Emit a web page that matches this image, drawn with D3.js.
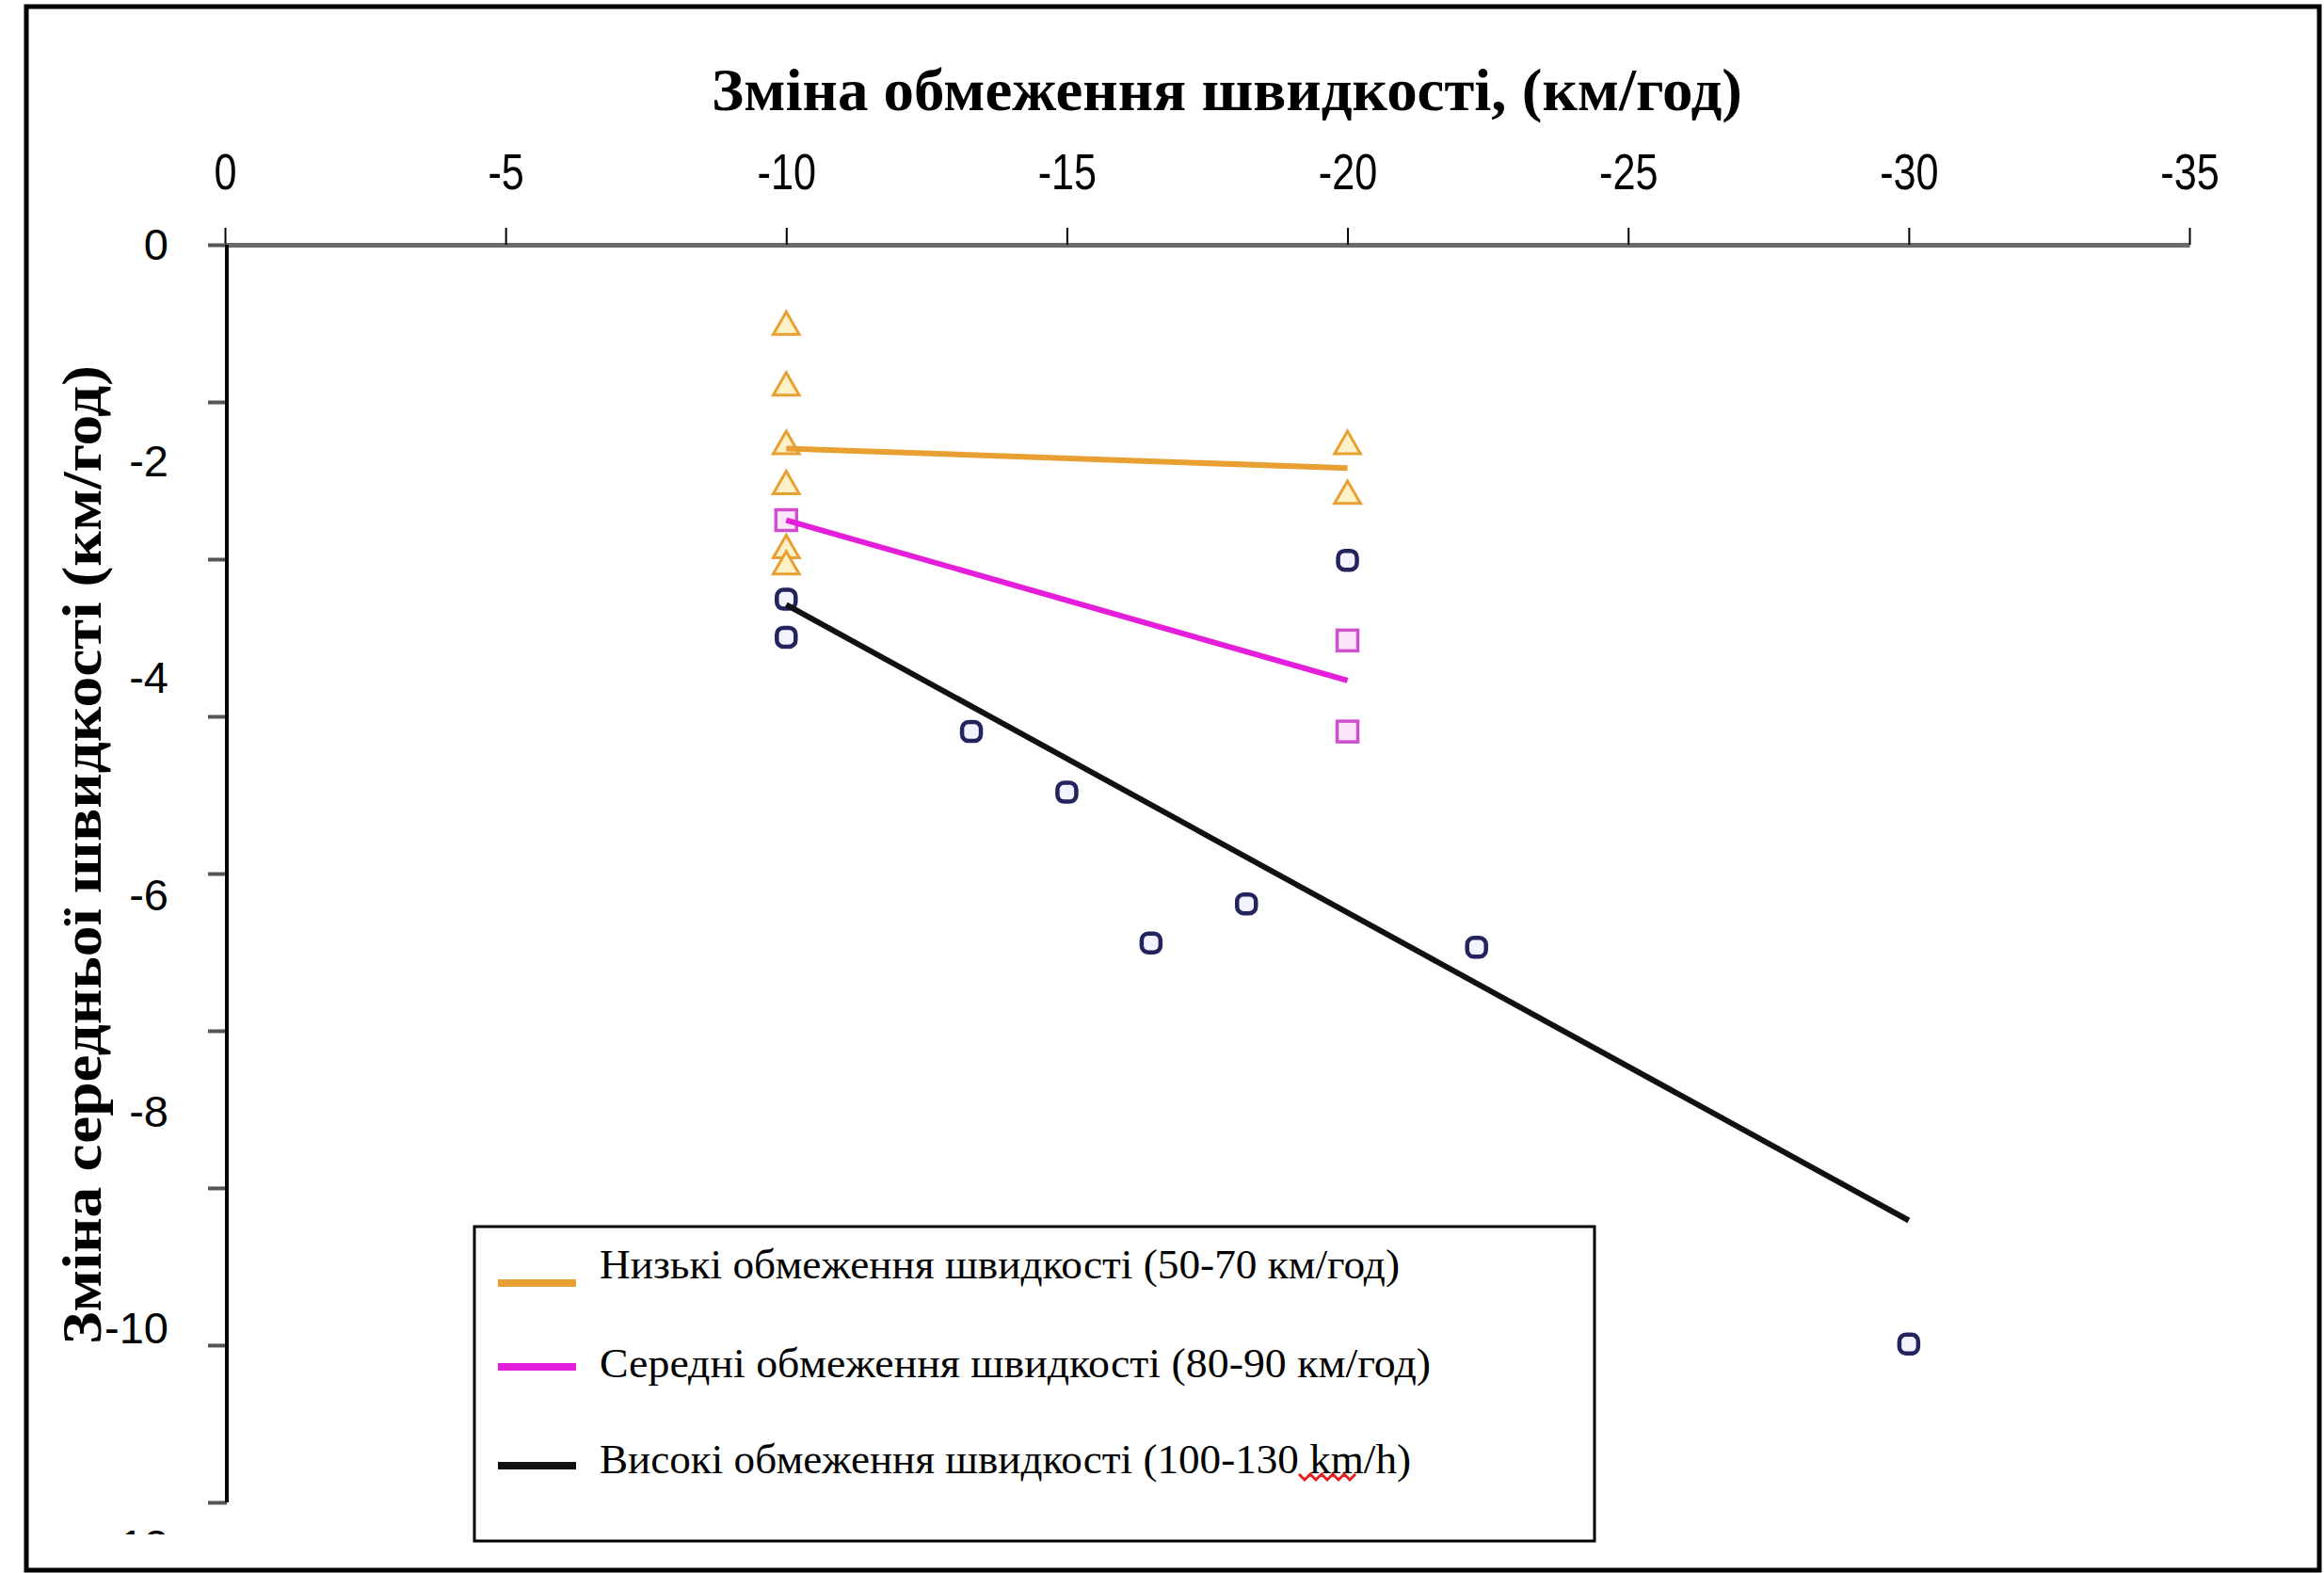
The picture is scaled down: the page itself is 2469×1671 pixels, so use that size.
<!DOCTYPE html>
<html>
<head>
<meta charset="utf-8">
<script src="https://cdn.jsdelivr.net/npm/d3@7"></script>
<style>
  body { margin: 0; background: #fff; }
  svg { display: block; }
</style>
</head>
<body>
<div id="chart"></div>
<script>
// ---- data ----
const xTickLabels = [0, -5, -10, -15, -20, -25, -30, -35];
const yTickLabels = [0, -2, -4, -6, -8, -10, -12];

// low limits (50-70 km/h), triangles
const lowX = [-10, -10, -10, -10, -10, -10, -20, -20];
const lowY = [-0.74, -1.30, -1.84, -2.21, -2.80, -2.95, -1.84, -2.30];
// medium limits (80-90 km/h), squares
const midX = [-10, -20, -20];
const midY = [-2.54, -3.65, -4.49];
// high limits (100-130 km/h), circles
const highX = [-10, -10, -13.3, -15.0, -16.5, -18.2, -20, -22.3, -30];
const highY = [-3.27, -3.62, -4.49, -5.05, -6.44, -6.08, -2.91, -6.48, -10.14];

// trend lines (end points)
const lowTrendX = [-10, -20], lowTrendY = [-1.88, -2.06];
const midTrendX = [-10, -20], midTrendY = [-2.54, -4.02];
const highTrendX = [-10, -30], highTrendY = [-3.32, -9.0];

const legendLabels = [
  "Низькі обмеження швидкості (50-70 км/год)",
  "Середні обмеження швидкості (80-90  км/год)",
  "Високі обмеження швидкості (100-130 km/h)"
];

// ---- layout ----
const W = 2469, H = 1671;
const svg = d3.select("#chart").append("svg")
  .attr("width", W)
  .attr("height", H);

const x = d3.scaleLinear().domain([0, -35]).range([239, 2326]);
const y = d3.scaleLinear().domain([0, -12]).range([260, 1642]);

const orange = "#E8A032", magenta = "#E41EDA", black = "#111";

// outer frame
svg.append("rect")
  .attr("x", 28).attr("y", 7)
  .attr("width", 2436).attr("height", 1661)
  .attr("fill", "none").attr("stroke", "#000").attr("stroke-width", 5);

// title
svg.append("text")
  .attr("x", 756).attr("y", 117)
  .attr("textLength", 1095).attr("lengthAdjust", "spacingAndGlyphs")
  .style("font-family", "'Liberation Serif', serif")
  .style("font-weight", "bold")
  .style("font-size", "63px")
  .text("Зміна обмеження швидкості, (км/год)");

// y title
svg.append("text")
  .attr("transform", "translate(107,908) rotate(-90)")
  .attr("text-anchor", "middle")
  .attr("textLength", 1040).attr("lengthAdjust", "spacingAndGlyphs")
  .style("font-family", "'Liberation Serif', serif")
  .style("font-weight", "bold")
  .style("font-size", "60px")
  .text("Зміна середньої швидкості (км/год)");

// x axis on top
let xAxis = svg.append("g")
  .attr("transform", `translate(0,${y(0)})`)
  .call(d3.axisTop(x).tickValues(xTickLabels).tickSize(18).tickSizeOuter(0)
    .tickPadding(41).tickFormat(d => d));
xAxis.select(".domain").attr("stroke", "#6a6a6a").attr("stroke-width", 5);
xAxis.selectAll(".tick line").attr("stroke", "#000").attr("stroke-width", 2);
// narrow labels: squeeze the glyphs round their own centre
xAxis.selectAll(".tick text")
  .attr("dy", 0)
  .attr("transform", "translate(0,-59) scale(0.8,1)")
  .attr("y", 0)
  .style("font-family", "'Liberation Sans', Arial, sans-serif")
  .style("font-size", "54px")
  .attr("fill", "#000");

// y axis: tick marks (they do not sit on the labels in the original)
const yAxisEnd = -11.6;
const yTickMarks = d3.range(9).map(i => -1.45 * i);
let yMarks = svg.append("g")
  .attr("transform", `translate(241,0)`)
  .call(d3.axisLeft(y).tickValues(yTickMarks).tickSize(20).tickFormat(""));
yMarks.select(".domain").remove();
yMarks.selectAll(".tick line").attr("stroke", "#555").attr("stroke-width", 4);

svg.append("line")
  .attr("x1", 241).attr("x2", 241)
  .attr("y1", y(0)).attr("y2", y(yAxisEnd))
  .attr("stroke", "#000").attr("stroke-width", 4);

// y labels, the last one cut by the frame edge
svg.append("clipPath").attr("id", "yclip")
  .append("rect").attr("x", -241).attr("y", 0).attr("width", 241).attr("height", 1630);

let yLab = svg.append("g")
  .attr("transform", `translate(241,0)`)
  .attr("clip-path", "url(#yclip)")
  .call(d3.axisLeft(y).tickValues(yTickLabels).tickSize(0).tickPadding(62).tickFormat(d => d));
yLab.select(".domain").remove();
yLab.selectAll(".tick text")
  .style("font-family", "'Liberation Sans', Arial, sans-serif")
  .style("font-size", "47px")
  .attr("fill", "#000");

// ---- markers ----
const tri = d3.symbol().type(d3.symbolTriangle).size(330);
svg.append("g").selectAll("path")
  .data(d3.zip(lowX, lowY))
  .join("path")
  .attr("d", tri)
  .attr("transform", d => `translate(${x(d[0])},${y(d[1]) + 2})`)
  .attr("fill", "#FDF1C8").attr("stroke", orange).attr("stroke-width", 3);

svg.append("g").selectAll("rect")
  .data(d3.zip(midX, midY))
  .join("rect")
  .attr("x", d => x(d[0]) - 11).attr("y", d => y(d[1]) - 11)
  .attr("width", 22).attr("height", 22)
  .attr("fill", "#FBE6FA").attr("stroke", "#CF4FCF").attr("stroke-width", 3.5);

svg.append("g").selectAll("rect")
  .data(d3.zip(highX, highY))
  .join("rect")
  .attr("x", d => x(d[0]) - 10).attr("y", d => y(d[1]) - 10)
  .attr("width", 20).attr("height", 20).attr("rx", 7)
  .attr("fill", "#F3F3FF").attr("stroke", "#23235E").attr("stroke-width", 4.5);

// ---- trend lines ----
const line = d3.line().x(d => x(d[0])).y(d => y(d[1]));
[[lowTrendX, lowTrendY, orange], [midTrendX, midTrendY, magenta], [highTrendX, highTrendY, black]]
  .forEach(([xs, ys, c]) => {
    svg.append("path")
      .datum(d3.zip(xs, ys))
      .attr("d", line)
      .attr("fill", "none")
      .attr("stroke", c)
      .attr("stroke-width", 6);
  });

// ---- legend ----
const legend = svg.append("g");
legend.append("rect")
  .attr("x", 504).attr("y", 1303)
  .attr("width", 1190).attr("height", 334)
  .attr("fill", "#fff").attr("stroke", "#000").attr("stroke-width", 3);

const legendColors = [orange, magenta, black];
const legendLineY = [1363, 1452, 1557];
const legendTextY = [1358, 1463, 1565];
const legendTextW = [850, 883, 862];

legendLabels.forEach((t, i) => {
  legend.append("line")
    .attr("x1", 529).attr("x2", 612)
    .attr("y1", legendLineY[i]).attr("y2", legendLineY[i])
    .attr("stroke", legendColors[i]).attr("stroke-width", 8);
  legend.append("text")
    .attr("x", 637).attr("y", legendTextY[i])
    .attr("textLength", legendTextW[i]).attr("lengthAdjust", "spacingAndGlyphs")
    .style("font-family", "'Liberation Serif', serif")
    .style("font-size", "45px")
    .attr("fill", "#000")
    .text(t);
});

// spell-check squiggle under "km"
legend.append("path")
  .attr("d", "M1380,1566 l6,6 l6,-6 l6,6 l6,-6 l6,6 l6,-6 l6,6 l6,-6 l6,6 l6,-6")
  .attr("fill", "none").attr("stroke", "#E02020").attr("stroke-width", 3);
</script>
</body>
</html>
